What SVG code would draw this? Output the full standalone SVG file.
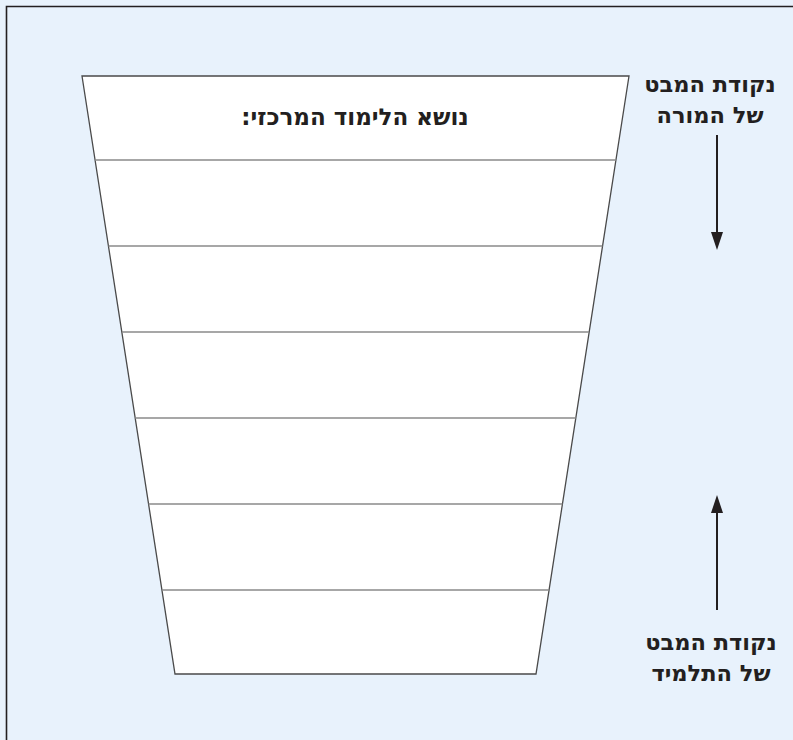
<svg xmlns="http://www.w3.org/2000/svg" width="793" height="740" viewBox="0 0 793 740">
<style>
.funnel{fill:#ffffff;stroke:#4a4a4a;stroke-width:1.3;stroke-linejoin:miter}
.row{stroke:#8a8a8a;stroke-width:1.3}
.lbl{font-family:"DejaVu Sans","Liberation Sans",sans-serif;font-weight:bold;fill:#231f20;text-anchor:middle}
.side{font-size:22.5px}
.shaft{stroke:#231f20;stroke-width:2}
.head{fill:#231f20}
</style>
<rect x="0" y="0" width="793" height="740" fill="#e8f2fc"/>
<path d="M6.5,740 L6.5,6.5 L793,6.5" fill="none" stroke="#231f20" stroke-width="1.6"/>
<g id="funnel">
<polygon class="funnel" points="82,76 629,76 536,674 175,674"/>
<line class="row" x1="95.1" y1="160" x2="615.9" y2="160"/>
<line class="row" x1="108.5" y1="246" x2="602.5" y2="246"/>
<line class="row" x1="121.9" y1="332" x2="589.1" y2="332"/>
<line class="row" x1="135.2" y1="418" x2="575.8" y2="418"/>
<line class="row" x1="148.6" y1="504" x2="562.4" y2="504"/>
<line class="row" x1="162" y1="590" x2="549" y2="590"/>
</g>
<g id="title">
<text class="lbl" x="355" y="125" font-size="23" direction="rtl">נושא הלימוד המרכזי:</text>
</g>
<g id="teacher">
<text class="lbl side" x="710" y="92" direction="rtl">נקודת המבט</text>
<text class="lbl side" x="710" y="123" direction="rtl">של המורה</text>
</g>
<g id="student">
<text class="lbl side" x="711" y="650" direction="rtl">נקודת המבט</text>
<text class="lbl side" x="711" y="681" direction="rtl">של התלמיד</text>
</g>
<g id="connectors">
<line class="shaft" x1="717" y1="135" x2="717" y2="236"/>
<path class="head" d="M711,232 L723,232 L717,250 Z"/>
<line class="shaft" x1="717" y1="610" x2="717" y2="509"/>
<path class="head" d="M711,513 L723,513 L717,495 Z"/>
</g>
</svg>
